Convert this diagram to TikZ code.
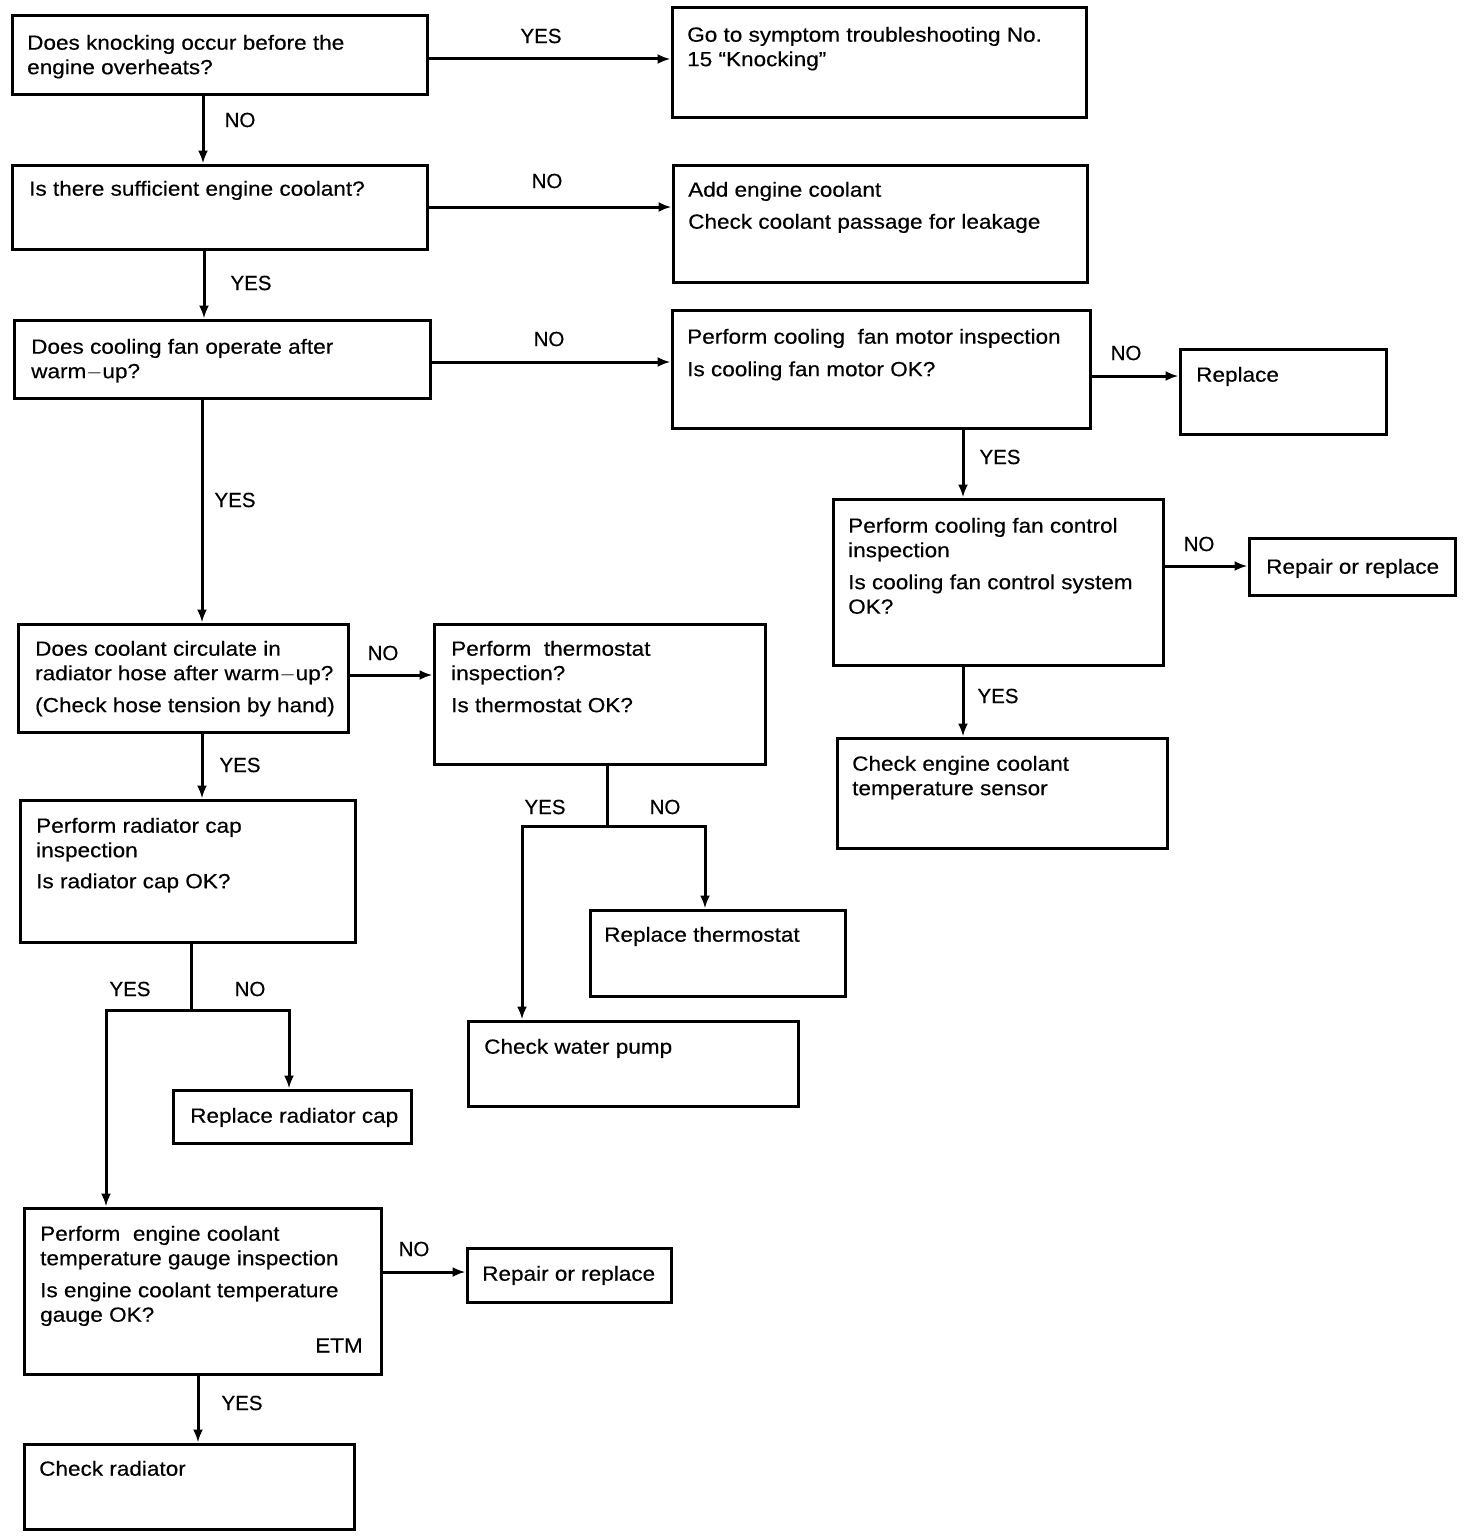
\documentclass[tikz,border=0pt]{standalone}
\usepackage{fontspec}
\setmainfont{Liberation Sans}
\newfontfamily\bodyfont{Liberation Sans}[FakeStretch=1.1,FakeBold=0.4]
\newfontfamily\lblfont{Liberation Sans}[FakeBold=0.4]
\usetikzlibrary{arrows.meta,fit}
\newcommand\fs{\rule{0pt}{16pt}}
\begin{document}
\begin{tikzpicture}[x=1pt,y=-1pt,
  box/.style={draw, line width=3pt, inner sep=0pt},
  txt/.style={inner sep=0pt, anchor=north west, align=left, font=\bodyfont\fontsize{20.5}{24.5}\selectfont},
  lbl/.style={inner sep=0pt, font=\lblfont\fontsize{20.5}{24.5}\selectfont},
  arr/.style={line width=3pt, -{Latex[length=13pt,width=10pt]}},
  ln/.style={line width=3pt}]
\useasboundingbox (0,0) rectangle (1472,1536);
% boxes
\node[box, fit={(12,16) (427,95)}] (q1) {};
\node[txt] at (27,33.5) (q1t) {\fs Does knocking occur before the\\engine overheats?};
\node[box, fit={(672,8) (1086,118)}] (goto) {};
\node[txt] at (687,25.5) (gotot) {\fs Go to symptom troubleshooting No.\\15 “Knocking”};
\node[box, fit={(12,165) (427,249)}] (q2) {};
\node[txt] at (29,179.5) (q2t) {\fs Is there sufficient engine coolant?};
\node[box, fit={(673,165) (1087,282)}] (add) {};
\node[txt] at (688,180.5) (addt) {\fs Add engine coolant\\[7.5pt]Check coolant passage for leakage};
\node[box, fit={(14,320) (430,398)}] (q3) {};
\node[txt] at (31,337.5) (q3t) {\fs Does cooling fan operate after\\warm$-$up?};
\node[box, fit={(672,310) (1090,428)}] (fm) {};
\node[txt] at (687,327.5) (fmt) {\fs Perform cooling\ \ fan motor inspection\\[8pt]Is cooling fan motor OK?};
\node[box, fit={(1180,349) (1386,434)}] (rep) {};
\node[txt] at (1196,365.5) (rept) {\fs Replace};
\node[box, fit={(833,499) (1163,665)}] (fc) {};
\node[txt] at (848,516.5) (fct) {\fs Perform cooling fan control\\inspection\\[7.5pt]Is cooling fan control system\\OK?};
\node[box, fit={(1249,538) (1455,595)}] (rr1) {};
\node[txt] at (1266,557.5) (rr1t) {\fs Repair or replace};
\node[box, fit={(837,738) (1167,848)}] (ects) {};
\node[txt] at (852,754.5) (ectst) {\fs Check engine coolant\\temperature sensor};
\node[box, fit={(18,624) (348,732)}] (q4) {};
\node[txt] at (35,639.5) (q4t) {\fs Does coolant circulate in\\radiator hose after warm$-$up?\\[7.5pt](Check hose tension by hand)};
\node[box, fit={(434,624) (765,764)}] (th) {};
\node[txt] at (451,639.5) (tht) {\fs Perform\ \ thermostat\\inspection?\\[7.5pt]Is thermostat OK?};
\node[box, fit={(20,800) (355,942)}] (rc) {};
\node[txt] at (36,816.5) (rct) {\fs Perform radiator cap\\inspection\\[6.5pt]Is radiator cap OK?};
\node[box, fit={(590,910) (845,996)}] (rt) {};
\node[txt] at (604,925.5) (rtt) {\fs Replace thermostat};
\node[box, fit={(468,1021) (798,1106)}] (wp) {};
\node[txt] at (484,1037.5) (wpt) {\fs Check water pump};
\node[box, fit={(173,1090) (411,1143)}] (rrc) {};
\node[txt] at (190,1106.5) (rrct) {\fs Replace radiator cap};
\node[box, fit={(24,1208) (381,1374)}] (g) {};
\node[txt] at (40,1224.5) (gt) {\fs Perform\ \ engine coolant\\temperature gauge inspection\\[7.5pt]Is engine coolant temperature\\gauge OK?};
\node[inner sep=0pt, anchor=base east, font=\bodyfont\fontsize{20.5}{24.5}\selectfont] at (363,1352.5) (etm) {ETM};
\node[box, fit={(467,1248) (671,1302)}] (rr2) {};
\node[txt] at (482,1264.5) (rr2t) {\fs Repair or replace};
\node[box, fit={(24,1444) (354,1529)}] (cr) {};
\node[txt] at (39,1459.5) (crt) {\fs Check radiator};
% connectors
\draw[arr] (q1.east |- 0,59) -- (goto.west |- 0,59);
\node[lbl] at (541,36) {YES};
\draw[arr] (q1.south -| 203,0) -- (q2.north -| 203,0);
\node[lbl] at (240,120) {NO};
\draw[arr] (q2.east |- 0,207) -- (add.west |- 0,207);
\node[lbl] at (547,181) {NO};
\draw[arr] (q2.south -| 204,0) -- (q3.north -| 204,0);
\node[lbl] at (251,283) {YES};
\draw[arr] (q3.east |- 0,362) -- (fm.west |- 0,362);
\node[lbl] at (549,339) {NO};
\draw[arr] (q3.south -| 202,0) -- (q4.north -| 202,0);
\node[lbl] at (235,500) {YES};
\draw[arr] (fm.east |- 0,376) -- (rep.west |- 0,376);
\node[lbl] at (1126,353) {NO};
\draw[arr] (fm.south -| 963,0) -- (fc.north -| 963,0);
\node[lbl] at (1000,457) {YES};
\draw[arr] (fc.east |- 0,566) -- (rr1.west |- 0,566);
\node[lbl] at (1199,544) {NO};
\draw[arr] (fc.south -| 963,0) -- (ects.north -| 963,0);
\node[lbl] at (998,696) {YES};
\draw[arr] (q4.east |- 0,675) -- (th.west |- 0,675);
\node[lbl] at (383,653) {NO};
\draw[arr] (q4.south -| 202,0) -- (rc.north -| 202,0);
\node[lbl] at (240,765) {YES};
% thermostat split
\coordinate (tj) at (607,826);
\coordinate (tl) at (522,826);
\coordinate (tr) at (705,826);
\draw[ln] (th.south -| tj) -- (tj);
\draw[arr] (tj) -- (tl) -- (wp.north -| tl);
\draw[arr] (tj) -- (tr) -- (rt.north -| tr);
\node[lbl] at (545,807) {YES};
\node[lbl] at (665,807) {NO};
% radiator cap split
\coordinate (rj) at (191,1010);
\coordinate (rl) at (106,1010);
\coordinate (rr) at (289,1010);
\draw[ln] (rc.south -| rj) -- (rj);
\draw[arr] (rj) -- (rl) -- (g.north -| rl);
\draw[arr] (rj) -- (rr) -- (rrc.north -| rr);
\node[lbl] at (130,989) {YES};
\node[lbl] at (250,989) {NO};
\draw[arr] (g.east |- 0,1272) -- (rr2.west |- 0,1272);
\node[lbl] at (414,1249) {NO};
\draw[arr] (g.south -| 198,0) -- (cr.north -| 198,0);
\node[lbl] at (242,1403) {YES};
\end{tikzpicture}
\end{document}
